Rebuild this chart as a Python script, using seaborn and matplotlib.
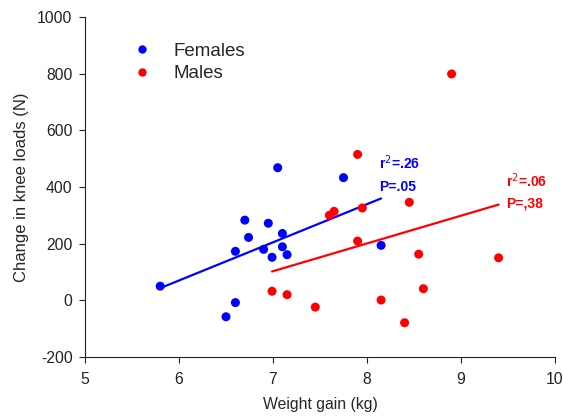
import matplotlib
matplotlib.use("Agg")
import matplotlib.pyplot as plt
import seaborn as sns
import pandas as pd
from matplotlib.lines import Line2D

fem_x = [5.80, 6.50, 6.60, 6.60, 6.70, 6.74, 6.90, 6.95, 6.99, 7.05, 7.10, 7.10, 7.15, 7.75, 8.15]
fem_y = [50, -58, -8, 173, 283, 222, 180, 272, 152, 468, 236, 189, 161, 433, 194]
male_x = [8.90, 7.90, 8.45, 7.95, 7.65, 7.60, 7.90, 8.55, 9.40, 6.99, 7.15, 7.45, 8.15, 8.60, 8.40]
male_y = [799, 515, 346, 326, 314, 300, 209, 163, 150, 32, 20, -24, 1, 41, -79]

sns.set_style("ticks")
plt.rcParams['font.family'] = ['Liberation Sans', 'DejaVu Sans']
plt.rcParams['axes.unicode_minus'] = False

fig = plt.figure(figsize=(5.63, 4.16), dpi=100)
ax = fig.add_axes([85/563, 1-357/416, 470/563, 340/416])

blue = "#0000ff"
red = "#ff0000"
df_f = pd.DataFrame({"x": fem_x, "y": fem_y})
df_m = pd.DataFrame({"x": male_x, "y": male_y})

sns.regplot(data=df_f, x="x", y="y", ax=ax, ci=None, color=blue,
            scatter_kws=dict(s=42, edgecolor="none", alpha=1, zorder=3),
            line_kws=dict(lw=1.6, zorder=2))
sns.regplot(data=df_m, x="x", y="y", ax=ax, ci=None, color=red,
            scatter_kws=dict(s=42, edgecolor="none", alpha=1, zorder=3),
            line_kws=dict(lw=1.6, zorder=2))

ax.set_xlim(5, 10)
ax.set_ylim(-200, 1000)
ax.set_xticks([5, 6, 7, 8, 9, 10])
ax.set_yticks([-200, 0, 200, 400, 600, 800, 1000])
ax.tick_params(labelsize=11.3, direction="out", length=4, width=0.8, colors="#222222")
ax.tick_params(axis="x", pad=7)
ax.tick_params(axis="y", pad=5)
ax.set_xlabel("Weight gain (kg)", fontsize=11.3, labelpad=7)
ax.set_ylabel("Change in knee loads (N)", fontsize=12, labelpad=6)
for s in ["top", "right"]:
    ax.spines[s].set_visible(False)
for s in ["left", "bottom"]:
    ax.spines[s].set_linewidth(0.8)
    ax.spines[s].set_color("#222222")

handles = [Line2D([], [], ls="none", marker="o", ms=6, color=blue, mec="none"),
           Line2D([], [], ls="none", marker="o", ms=6, color=red, mec="none")]
ax.legend(handles, ["Females", "Males"], loc="upper left", bbox_to_anchor=(0.065, 0.975),
          frameon=False, fontsize=13.5, handletextpad=1.2, labelspacing=0.3, handlelength=1.0)

ax.text(8.13, 485, r"r$^2$=.26", color=blue, fontsize=10, fontweight="bold", va="center")
ax.text(8.13, 400, "P=.05", color=blue, fontsize=10, fontweight="bold", va="center")
ax.text(9.48, 421, r"r$^2$=.06", color=red, fontsize=10, fontweight="bold", va="center")
ax.text(9.48, 340, "P=,38", color=red, fontsize=10, fontweight="bold", va="center")

fig.savefig("out.png", dpi=100)
